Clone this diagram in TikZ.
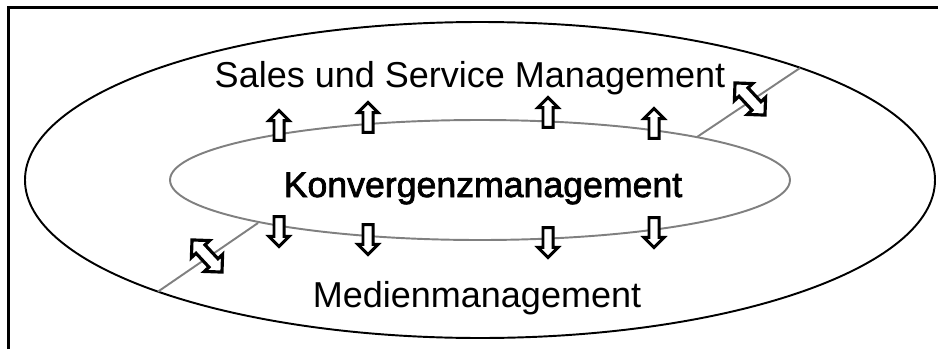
\documentclass[tikz,border=0pt]{standalone}
\usepackage{fontspec}
\setmainfont{Liberation Sans}
\newfontfamily\konvfont[FakeBold=2]{Liberation Sans}
\usetikzlibrary{shapes.arrows}

\begin{document}
\begin{tikzpicture}[x=0.02cm,y=-0.02cm,
  fleche/.style={single arrow,draw,line width=1.7pt,fill=white,inner sep=0pt,inner ysep=2pt,
    single arrow head extend=2.9pt,minimum height=17pt,single arrow head indent=0pt},
  double/.style={double arrow,draw,line width=1.8pt,fill=white,inner sep=0pt,inner ysep=2.6pt,
    double arrow head extend=3.6pt,minimum height=25pt},
  liaison/.style={gray,line width=1.1pt}]
			          %cadre et ellipses
			          \useasboundingbox (0,0) rectangle (938,349);
			          \draw[line width=1.2pt] (8.5,349) -- (8.5,7.5) -- (938,7.5);
			          \coordinate (O) at (480,180);
			          \coordinate (I) at (480,180);
			          \draw[line width=1.1pt] (O) ellipse [x radius=455,y radius=158];
			          \draw[liaison] (I) ellipse [x radius=310,y radius=60];
			          %liaisons
			          \coordinate (ia) at (697,137);
			          \coordinate (oa) at (800,68);
			          \coordinate (ib) at (258,223);
			          \coordinate (ob) at (158,291.6);
			          \draw[liaison] (ia) -- (oa);
			          \draw[liaison] (ib) -- (ob);
			          \node[double,rotate=-47] (da) at (750,99) {};
			          \node[double,rotate=-47] (db) at (207,256) {};
			          %fleches
			          \foreach \x/\y/\n in {279/128/1,368/120/2,548/115/3,654/126/4}
			            \node[fleche,rotate=90] (h\n) at (\x,\y) {};
			          \foreach \x/\y/\n in {279/229/1,368/237/2,548/240/3,654/230/4}
			            \node[fleche,rotate=-90] (b\n) at (\x,\y) {};
			          %textes
			          \node[anchor=base,inner sep=0pt,font=\fontsize{20.5pt}{24pt}\selectfont] (sales) at (470,87) {Sales und Service Management};
			          \node[anchor=base,inner sep=0pt,font=\konvfont\fontsize{20.3pt}{24pt}\selectfont] (konv) at (483,197) {Konvergenzmanagement};
			          \node[anchor=base,inner sep=0pt,font=\fontsize{20.5pt}{24pt}\selectfont] (medien) at (477,307) {Medienmanagement};
\end{tikzpicture}
\end{document}
